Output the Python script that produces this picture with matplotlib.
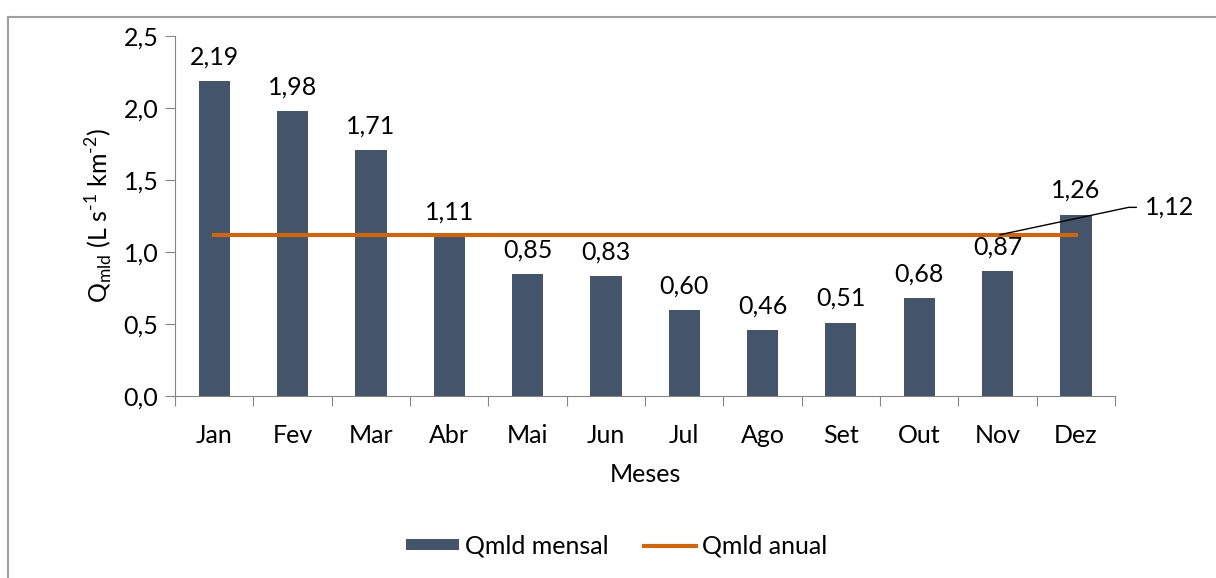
import numpy as np
import matplotlib
matplotlib.use('Agg')
import matplotlib.pyplot as plt
from matplotlib.lines import Line2D

months = ['Jan', 'Fev', 'Mar', 'Abr', 'Mai', 'Jun', 'Jul', 'Ago', 'Set', 'Out', 'Nov', 'Dez']
qmld_mensal = [2.19, 1.98, 1.71, 1.11, 0.85, 0.83, 0.60, 0.46, 0.51, 0.68, 0.87, 1.26]
qmld_anual = 1.12

bar_color = '#44546A'
line_color = '#CC6611'
axis_color = '#868686'

plt.rcParams['font.family'] = ['Lato', 'DejaVu Sans']
plt.rcParams['font.size'] = 18
plt.rcParams['mathtext.fontset'] = 'custom'
plt.rcParams['mathtext.rm'] = 'Lato'

fig = plt.figure(figsize=(12.16, 5.78), dpi=100)
ax = fig.add_axes([175 / 1216, 1 - 396 / 578, 940 / 1216, 360 / 578])

x = np.arange(len(months))
bars = ax.bar(x, qmld_mensal, width=0.40, color=bar_color, label='Qmld mensal', zorder=2)
line, = ax.plot(x, [qmld_anual] * len(x), color=line_color, lw=3, label='Qmld anual', zorder=3)

# value labels above bars
for xi, v in zip(x, qmld_mensal):
    ax.annotate(f'{v:.2f}'.replace('.', ','), (xi, v), xytext=(0, 9),
                textcoords='offset points', ha='center', va='bottom')

# annual label with leader line
ax.annotate(f'{qmld_anual:.2f}'.replace('.', ','), xy=(10.03, qmld_anual),
            xytext=(11.88, 1.31), ha='left', va='center',
            arrowprops=dict(arrowstyle='-', color='black', lw=1,
                            connectionstyle='angle,angleA=0,angleB=12,rad=0',
                            shrinkA=4, shrinkB=0))

ax.set_xlim(-0.5, len(months) - 0.5)
ax.set_ylim(0, 2.5)
yt = np.arange(0, 2.51, 0.5)
ax.set_yticks(yt)
ax.set_yticklabels([f'{t:.1f}'.replace('.', ',') for t in yt])
ax.set_xticks(np.arange(-0.5, len(months), 1.0))
ax.set_xticklabels([])
ax.set_xticks(x, minor=True)
ax.set_xticklabels(months, minor=True)
ax.tick_params(axis='x', which='major', length=7, direction='out', color=axis_color)
ax.tick_params(axis='x', which='minor', length=0, pad=20)
ax.tick_params(axis='y', length=7, direction='out', color=axis_color, pad=5)

for s in ['top', 'right']:
    ax.spines[s].set_visible(False)
for s in ['left', 'bottom']:
    ax.spines[s].set_color(axis_color)

ax.set_xlabel('Meses', labelpad=12)
ax.set_ylabel('Q$_{\\mathregular{mld}}$ (L s$^{\\mathregular{\u20101}}$ km$^{\\mathregular{\u20102}}$)',
              labelpad=6)

fig.legend([bars, line], ['Qmld mensal', 'Qmld anual'], loc='center',
           bbox_to_anchor=(617 / 1216, 1 - 546 / 578), ncol=2,
           frameon=False, handlelength=2.1, handleheight=0.3, columnspacing=1.4,
           handletextpad=0.25)

# chart frame
fig.add_artist(Line2D([8 / 1216, 1], [1 - 17 / 578] * 2, color='#A0A0A0', lw=1.5,
                      transform=fig.transFigure))
fig.add_artist(Line2D([8 / 1216] * 2, [0, 1 - 17 / 578], color='#A0A0A0', lw=1.5,
                      transform=fig.transFigure))

fig.savefig('out.png', dpi=100)
